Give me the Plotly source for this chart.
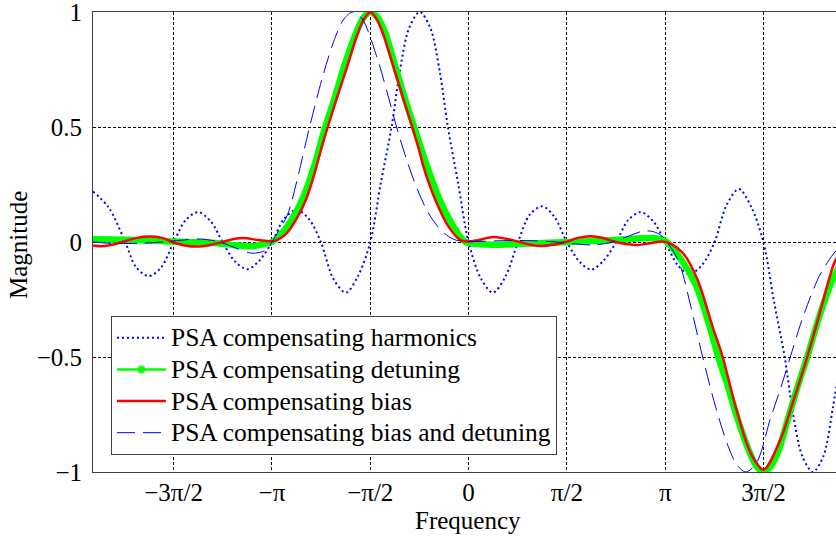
import numpy as np
import plotly.graph_objects as go

# Frequency axis tick marks (multiples of pi/2) and their labels
tick_vals = [-1.5 * np.pi, -np.pi, -0.5 * np.pi, 0.0, 0.5 * np.pi, np.pi, 1.5 * np.pi]
tick_text = ["\u22123\u03c0/2", "\u2212\u03c0", "\u2212\u03c0/2", "0", "\u03c0/2", "\u03c0", "3\u03c0/2"]
ytick_vals = [1, 0.5, 0, -0.5, -1]
ytick_text = ["1", "0.5", "0", "\u22120.5", "\u22121"]

series_names = ["PSA compensating harmonics", "PSA compensating detuning",
                "PSA compensating bias", "PSA compensating bias and detuning"]

# PSA compensating harmonics
harm_w = [-6.0, -5.75, -5.50, -5.31, -5.11, -4.91, -4.71, -4.52, -4.32, -4.12, -3.93, -3.73,
          -3.53, -3.34, -3.14, -2.95, -2.75, -2.55, -2.36, -2.16, -1.96, -1.77, -1.57, -1.40,
          -1.23, -1.10, -0.95, -0.78, -0.61, -0.46, -0.33, -0.17, 0.0, 0.20, 0.39, 0.59,
          0.79, 0.98, 1.18, 1.37, 1.57, 1.77, 1.96, 2.16, 2.36, 2.55, 2.75, 2.95, 3.14,
          3.34, 3.53, 3.73, 3.93, 4.12, 4.32, 4.52, 4.71, 4.88, 5.05, 5.18, 5.33, 5.50,
          5.67, 5.82, 5.95]
harm_mag = [0.22, 0.15, 0.01, -0.11, -0.148, -0.11, 0.0, 0.095, 0.13, 0.09, 0.0, -0.085,
            -0.118, -0.08, 0.0, 0.10, 0.14, 0.10, 0.0, -0.16, -0.22, -0.15, 0.0, 0.26,
            0.50, 0.74, 0.93, 1.0, 0.93, 0.74, 0.50, 0.26, 0.0, -0.16, -0.22, -0.15,
            0.0, 0.12, 0.155, 0.11, 0.0, -0.085, -0.12, -0.08, 0.0, 0.095, 0.13, 0.09, 0.0,
            -0.10, -0.14, -0.10, 0.0, 0.16, 0.23, 0.15, 0.0, -0.26, -0.50, -0.74, -0.93, -1.0,
            -0.93, -0.72, -0.50]

# PSA compensating detuning
detu_w = [-6.0, -5.5, -5.0, -4.5, -4.0, -3.7, -3.45, -3.3, -3.14, -2.9, -2.66, -2.47, -2.29,
          -2.15, -1.99, -1.80, -1.68, -1.57, -1.45, -1.33, -1.17, -1.01, -0.87, -0.66, -0.46,
          -0.24, -0.05, 0.15, 0.4, 0.8, 1.2, 1.6, 2.0, 2.4, 2.8, 3.0, 3.14, 3.38, 3.62, 3.81,
          3.99, 4.13, 4.29, 4.48, 4.60, 4.71, 4.83, 4.95, 5.11, 5.27, 5.41, 5.62, 5.82, 6.0]
detu_mag = [0.012, 0.01, 0.005, 0.0, -0.005, -0.015, -0.018, -0.01, 0.0, 0.067, 0.183, 0.327,
            0.50, 0.617, 0.762, 0.908, 0.975, 1.0, 0.975, 0.908, 0.762, 0.617, 0.50, 0.327,
            0.183, 0.067, 0.0, -0.008, -0.012, -0.008, -0.004, 0.0, 0.004, 0.01, 0.016, 0.016,
            0.005, -0.07, -0.18, -0.33, -0.50, -0.617, -0.762, -0.908, -0.975, -1.0, -0.975,
            -0.908, -0.762, -0.617, -0.50, -0.31, -0.16, -0.07]

# PSA compensating bias
bias_w = [-6.0, -5.85, -5.70, -5.53, -5.3, -5.1, -4.9, -4.73, -4.53, -4.33, -4.13, -3.93,
          -3.75, -3.6, -3.4, -3.25, -3.1, -2.9, -2.73, -2.6, -2.47, -2.36, -2.25, -2.1, -1.94,
          -1.78, -1.67, -1.57, -1.47, -1.36, -1.2, -1.05, -0.9, -0.79, -0.72, -0.53, -0.32,
          -0.13, 0.0, 0.15, 0.4, 0.75, 0.95, 1.15, 1.35, 1.55, 1.75, 1.95, 2.15, 2.35, 2.55,
          2.7, 2.9, 3.1, 3.25, 3.43, 3.66, 3.90, 4.06, 4.27, 4.51, 4.71, 4.98, 5.19, 5.41,
          5.62, 5.75, 5.86, 6.0]
bias_mag = [-0.015, -0.018, -0.012, 0.0, 0.018, 0.024, 0.018, 0.0, -0.015, -0.02, -0.013, 0.0,
            0.013, 0.017, 0.01, 0.005, 0.005, 0.04, 0.11, 0.183, 0.29, 0.40, 0.50, 0.63, 0.762,
            0.90, 0.97, 1.0, 0.97, 0.90, 0.762, 0.63, 0.50, 0.40, 0.327, 0.183, 0.067,
            0.008, 0.002, 0.008, 0.022, 0.005, -0.01, -0.017, -0.012, 0.0, 0.018, 0.025, 0.017,
            0.0, -0.01, -0.013, -0.005, 0.002, -0.01, -0.05, -0.165, -0.37, -0.50, -0.72, -0.92,
            -0.99, -0.86, -0.69, -0.50, -0.30, -0.17, -0.08, -0.03]

# PSA compensating bias and detuning
both_w = [-6.0, -5.7, -5.3, -4.9, -4.58, -4.28, -3.98, -3.73, -3.48, -3.33, -3.21, -3.14,
          -3.03, -2.89, -2.73, -2.54, -2.33, -2.13, -1.99, -1.85, -1.70, -1.46, -1.30, -1.15,
          -0.98, -0.82, -0.65, -0.50, -0.35, -0.20, 0.0, 0.2, 0.6, 1.0, 1.4, 1.7, 2.0, 2.3,
          2.55, 2.8, 2.95, 3.07, 3.17, 3.27, 3.39, 3.55, 3.74, 3.95, 4.15, 4.29, 4.43, 4.60,
          4.82, 4.98, 5.14, 5.30, 5.46, 5.60, 5.73, 5.88, 6.0]
both_mag = [0.0, -0.006, -0.006, 0.0, 0.008, 0.013, 0.0, -0.025, -0.048, -0.045, -0.03, 0.0,
            0.05, 0.12, 0.28, 0.50, 0.72, 0.89, 0.97, 1.0, 0.97, 0.80, 0.65, 0.50,
            0.35, 0.23, 0.13, 0.07, 0.03, 0.008, 0.002, 0.003, 0.006, 0.006, 0.0, -0.008, -0.013,
            0.0, 0.025, 0.048, 0.045, 0.03, 0.0, -0.04, -0.11, -0.28, -0.50, -0.72, -0.89,
            -0.97, -1.0, -0.96, -0.77, -0.64, -0.50, -0.36, -0.24, -0.15, -0.09, -0.035, -0.01]

serif = "Liberation Serif, Times New Roman, serif"


def legend_label(text):
    # Legend rows are spaced by the legend font size; the label itself is set larger
    return '<span style="font-size:25.5px">' + text + "</span>"


green = "#00ff00"
fig = go.Figure()
fig.add_trace(go.Scatter(
    x=harm_w, y=harm_mag, mode="lines", name=legend_label(series_names[0]),
    legendgroup="a", legendrank=1,
    line=dict(color="#0000ff", width=2, dash="2px,3px", shape="spline", smoothing=0.9)))
# thick band of the detuning curve (its legend entry is the thin line + marker below)
fig.add_trace(go.Scatter(
    x=detu_w, y=detu_mag, mode="lines", name=series_names[1], showlegend=False,
    legendgroup="b",
    line=dict(color=green, width=6.5, shape="spline", smoothing=0.9)))
fig.add_trace(go.Scatter(
    x=[None], y=[None], mode="lines+markers", name=legend_label(series_names[1]),
    legendgroup="b", legendrank=2,
    line=dict(color=green, width=2.5),
    marker=dict(symbol="asterisk-open", size=7, color=green, line=dict(color=green, width=2))))
fig.add_trace(go.Scatter(
    x=bias_w, y=bias_mag, mode="lines", name=legend_label(series_names[2]),
    legendgroup="c", legendrank=3,
    line=dict(color="#ff0000", width=2.5, shape="spline", smoothing=0.9)))
fig.add_trace(go.Scatter(
    x=both_w, y=both_mag, mode="lines", name=legend_label(series_names[3]),
    legendgroup="d", legendrank=4,
    line=dict(color="#0000ff", width=1, dash="18px,8px", shape="spline", smoothing=0.9)))

grid = dict(showgrid=True, gridcolor="#000000", gridwidth=1, griddash="3px,2px",
            zeroline=False, showline=True, linecolor="#404040", linewidth=1,
            ticks="", ticklabeloverflow="allow",
            tickfont=dict(family=serif, size=25, color="black"))

fig.update_xaxes(range=[-6.0, 5.87], tickvals=tick_vals, ticktext=tick_text,
                 mirror=True, ticklabelstandoff=-2, **grid)
fig.update_yaxes(range=[-1.0, 1.0], tickvals=ytick_vals, ticktext=ytick_text,
                 mirror=False, ticklabelstandoff=5, **grid)

fig.add_annotation(text="Frequency", xref="paper", yref="paper", x=0.5047, y=-0.1065,
                   xanchor="center", yanchor="middle", showarrow=False,
                   font=dict(family=serif, size=25, color="black"))
fig.add_annotation(text="Magnitude", xref="paper", yref="paper", x=-0.0996, y=0.4935,
                   xanchor="center", yanchor="middle", textangle=-90, showarrow=False,
                   font=dict(family=serif, size=25, color="black"))

fig.update_layout(
    width=836, height=540,
    margin=dict(l=93, r=0, t=12, b=68),
    paper_bgcolor="white", plot_bgcolor="white",
    showlegend=True,
    legend=dict(x=0.0242, y=0.339, xanchor="left", yanchor="top",
                bgcolor="white", bordercolor="#404040", borderwidth=1,
                font=dict(family=serif, size=22, color="black"),
                itemwidth=49, tracegroupgap=0, traceorder="normal"),
)

fig.write_html("out.html")
